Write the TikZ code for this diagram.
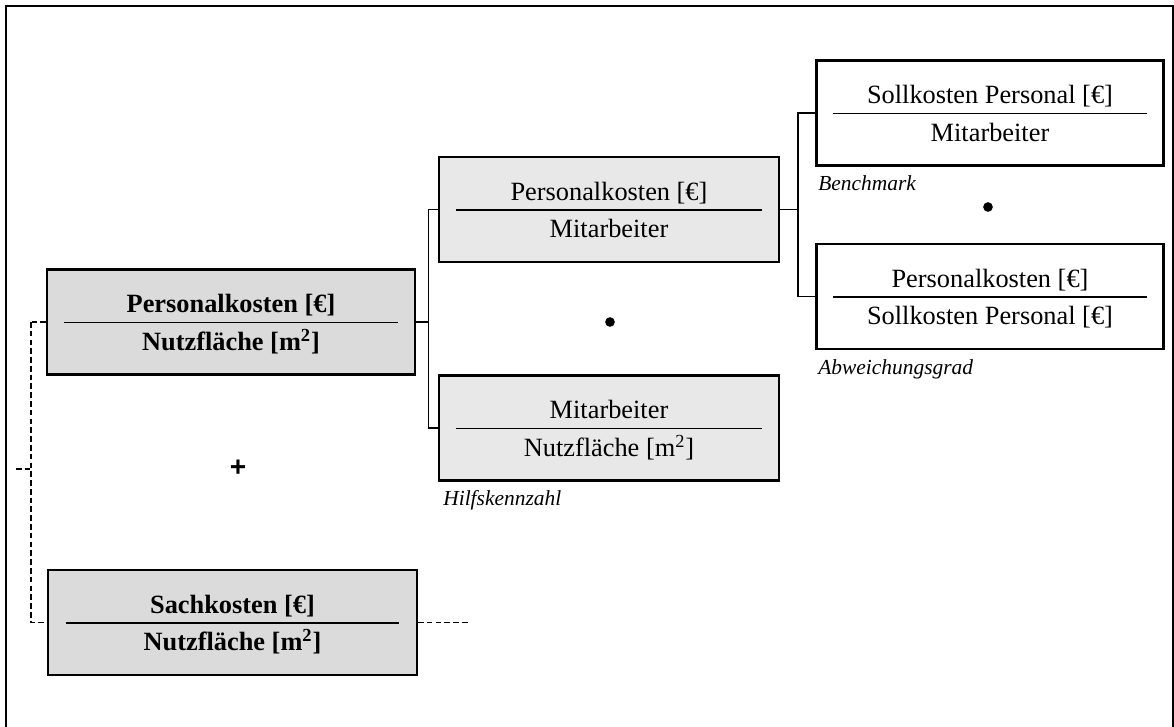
\documentclass[tikz,border=0pt]{standalone}
\usepackage{fontspec}
\setmainfont{Liberation Serif}
\setsansfont{Liberation Sans}
\usepackage{array}
\setlength{\arrayrulewidth}{0.9pt}

% numerator over denominator, with a rule of fixed width
\newcommand{\ratio}[3]{%
  \begin{tabular}{@{}>{\centering\arraybackslash}p{#1}@{}}
    \rule{0pt}{16.1pt}#2\\ \hline
    \rule{0pt}{15.3pt}#3
  \end{tabular}}

\begin{document}
\begin{tikzpicture}[x=0.02cm, y=-0.02cm,
  kz/.style 2 args={
    rectangle,
    draw=black,
    line width=1.2pt,
    fill=#2,
    minimum width=#1,
    minimum height=2.1cm,
    inner sep=0pt,
    font=\fontsize{15}{17}\selectfont},
  link/.style={line width=1pt},
  sum/.style={line width=1.1pt, dash pattern=on 3.2pt off 1.8pt},
  dot/.style={circle, fill=black, inner sep=0pt, minimum size=5.5pt},
  note/.style={anchor=base west, inner sep=0pt,
    font=\fontsize{12.2}{14}\selectfont\itshape}]
  \useasboundingbox (0,0) rectangle (1174,727);
  % frame
  \draw[line width=1pt] (6,727) -- (6,6) -- (1173,6) -- (1173,727);
  % draw cost ratios per area
  \node[kz={7.36cm}{black!14}] (pk) at (231,322)
    {\ratio{6.68cm}{\textbf{Personalkosten [€]}}{\textbf{Nutzfläche [m\textsuperscript{2}]}}};
  \node[kz={7.38cm}{black!14}] (sk) at (232.5,622.5)
    {\ratio{6.68cm}{\textbf{Sachkosten [€]}}{\textbf{Nutzfläche [m\textsuperscript{2}]}}};
  % draw split of personnel costs
  \node[kz={6.8cm}{black!9}] (pkma) at (609,209.5)
    {\ratio{6.14cm}{Personalkosten [€]}{Mitarbeiter}};
  \node[kz={6.8cm}{black!9}] (manf) at (609,428)
    {\ratio{6.14cm}{Mitarbeiter}{Nutzfläche [m\textsuperscript{2}]}};
  % draw split of costs per employee
  \node[kz={6.94cm}{white}] (soll) at (990,113)
    {\ratio{6.3cm}{Sollkosten Personal [€]}{Mitarbeiter}};
  \node[kz={6.94cm}{white}] (abw) at (990,296.5)
    {\ratio{6.3cm}{Personalkosten [€]}{Sollkosten Personal [€]}};
  % operators
  \node[font=\sffamily\bfseries\fontsize{16}{18}\selectfont] (plus) at (238,468) {+};
  \node[dot] (m1) at (610,322) {};
  \node[dot] (m2) at (988,207) {};
  % captions under the boxes
  \node[note] (hk) at (443,505) {Hilfskennzahl};
  \node[note] (bm) at (818,190) {Benchmark};
  \node[note] (ag) at (818,374) {Abweichungsgrad};
  % tree links
  \draw[link] (pk.east) -- ++(12.5,0) coordinate (j1);
  \draw[link] (pkma.west) -| (j1) |- (manf.west);
  \draw[link] (pkma.east) -- ++(18,0) coordinate (j2);
  \draw[link] (soll.west) -| (j2) |- (abw.west);
  % dashed sum bracket
  \draw[sum] (pk.west) -- ++(-15,0) coordinate (j3);
  \draw[sum] (j3) |- (sk.west);
  \coordinate (s0) at (16,469);
  \draw[sum] (s0) -- (s0 -| j3);
  \coordinate (s1) at (470,622.5);
  \draw[sum] (sk.east) -- (s1);
\end{tikzpicture}
\end{document}
